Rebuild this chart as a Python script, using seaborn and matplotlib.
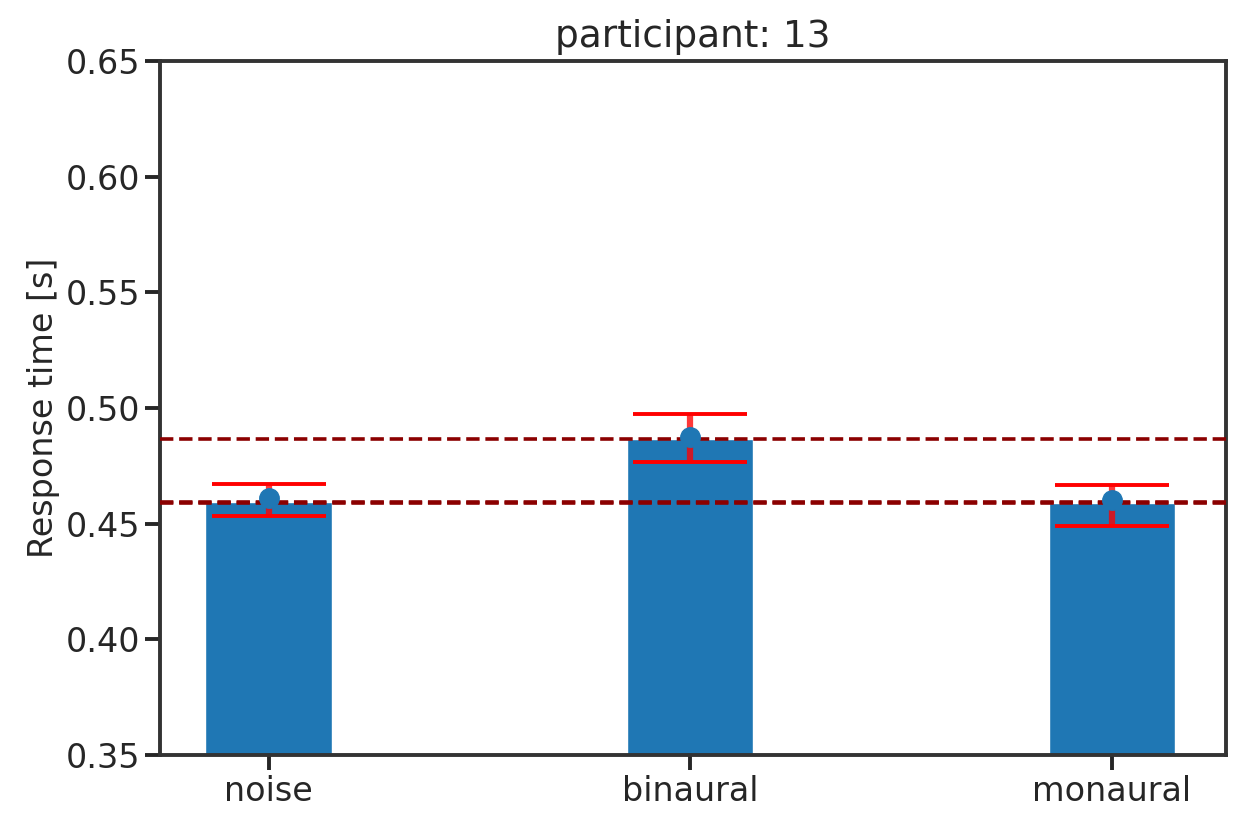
import matplotlib
matplotlib.use("Agg")
import matplotlib.pyplot as plt
import seaborn as sns
import pandas as pd

conditions = ["noise", "binaural", "monaural"]
bar_values = [0.4595, 0.4865, 0.4590]
mean_values = [0.4610, 0.4875, 0.4603]
ci_low = [0.4533, 0.4767, 0.4490]
ci_high = [0.4672, 0.4974, 0.4667]
yticks = [0.35, 0.40, 0.45, 0.50, 0.55, 0.60, 0.65]

sns.set_theme(style="ticks")
plt.rcParams["font.family"] = ["DejaVu Sans"]
plt.rcParams.update({
    "axes.edgecolor": ".2",
    "axes.linewidth": 2.8,
    "xtick.major.width": 2.8,
    "ytick.major.width": 2.8,
    "xtick.major.size": 11,
    "ytick.major.size": 11,
    "xtick.labelsize": 24,
    "ytick.labelsize": 24,
    "axes.labelsize": 24,
    "axes.titlesize": 27,
    "text.color": ".15",
    "xtick.color": ".15",
    "ytick.color": ".15",
})

fig = plt.figure(figsize=(12.33, 8.14), dpi=100)
ax = fig.add_axes([0.130, 0.0725, 0.864, 0.8525])

df = pd.DataFrame({"condition": conditions, "rt": bar_values})
sns.barplot(data=df, x="condition", y="rt", color="#1f77b4", saturation=1,
            width=0.3, errorbar=None, ax=ax, zorder=2)

for v in bar_values:
    ax.axhline(v, color="darkred", linestyle="--", linewidth=2.6, zorder=3)

xs = list(range(len(conditions)))
yerr = [[m - lo for m, lo in zip(mean_values, ci_low)],
        [hi - m for m, hi in zip(mean_values, ci_high)]]
_, caps, _ = ax.errorbar(xs, mean_values, yerr=yerr, fmt="o", color="#1f77b4",
                         ecolor=(1, 0, 0, 0.78), elinewidth=4.5, capsize=41,
                         capthick=2.8, markersize=14, zorder=4)
for c in caps:
    c.set_color("red")
    c.set_alpha(1)

ax.set_ylim(0.35, 0.65)
ax.set_yticks(yticks)
ax.set_yticklabels([f"{t:.2f}" for t in yticks])
ax.set_xlim(-0.257, 2.27)
ax.set_xlabel("")
ax.set_ylabel("Response time [s]")
ax.set_title("participant: 13", pad=10)

fig.savefig("out.png", dpi=100)
